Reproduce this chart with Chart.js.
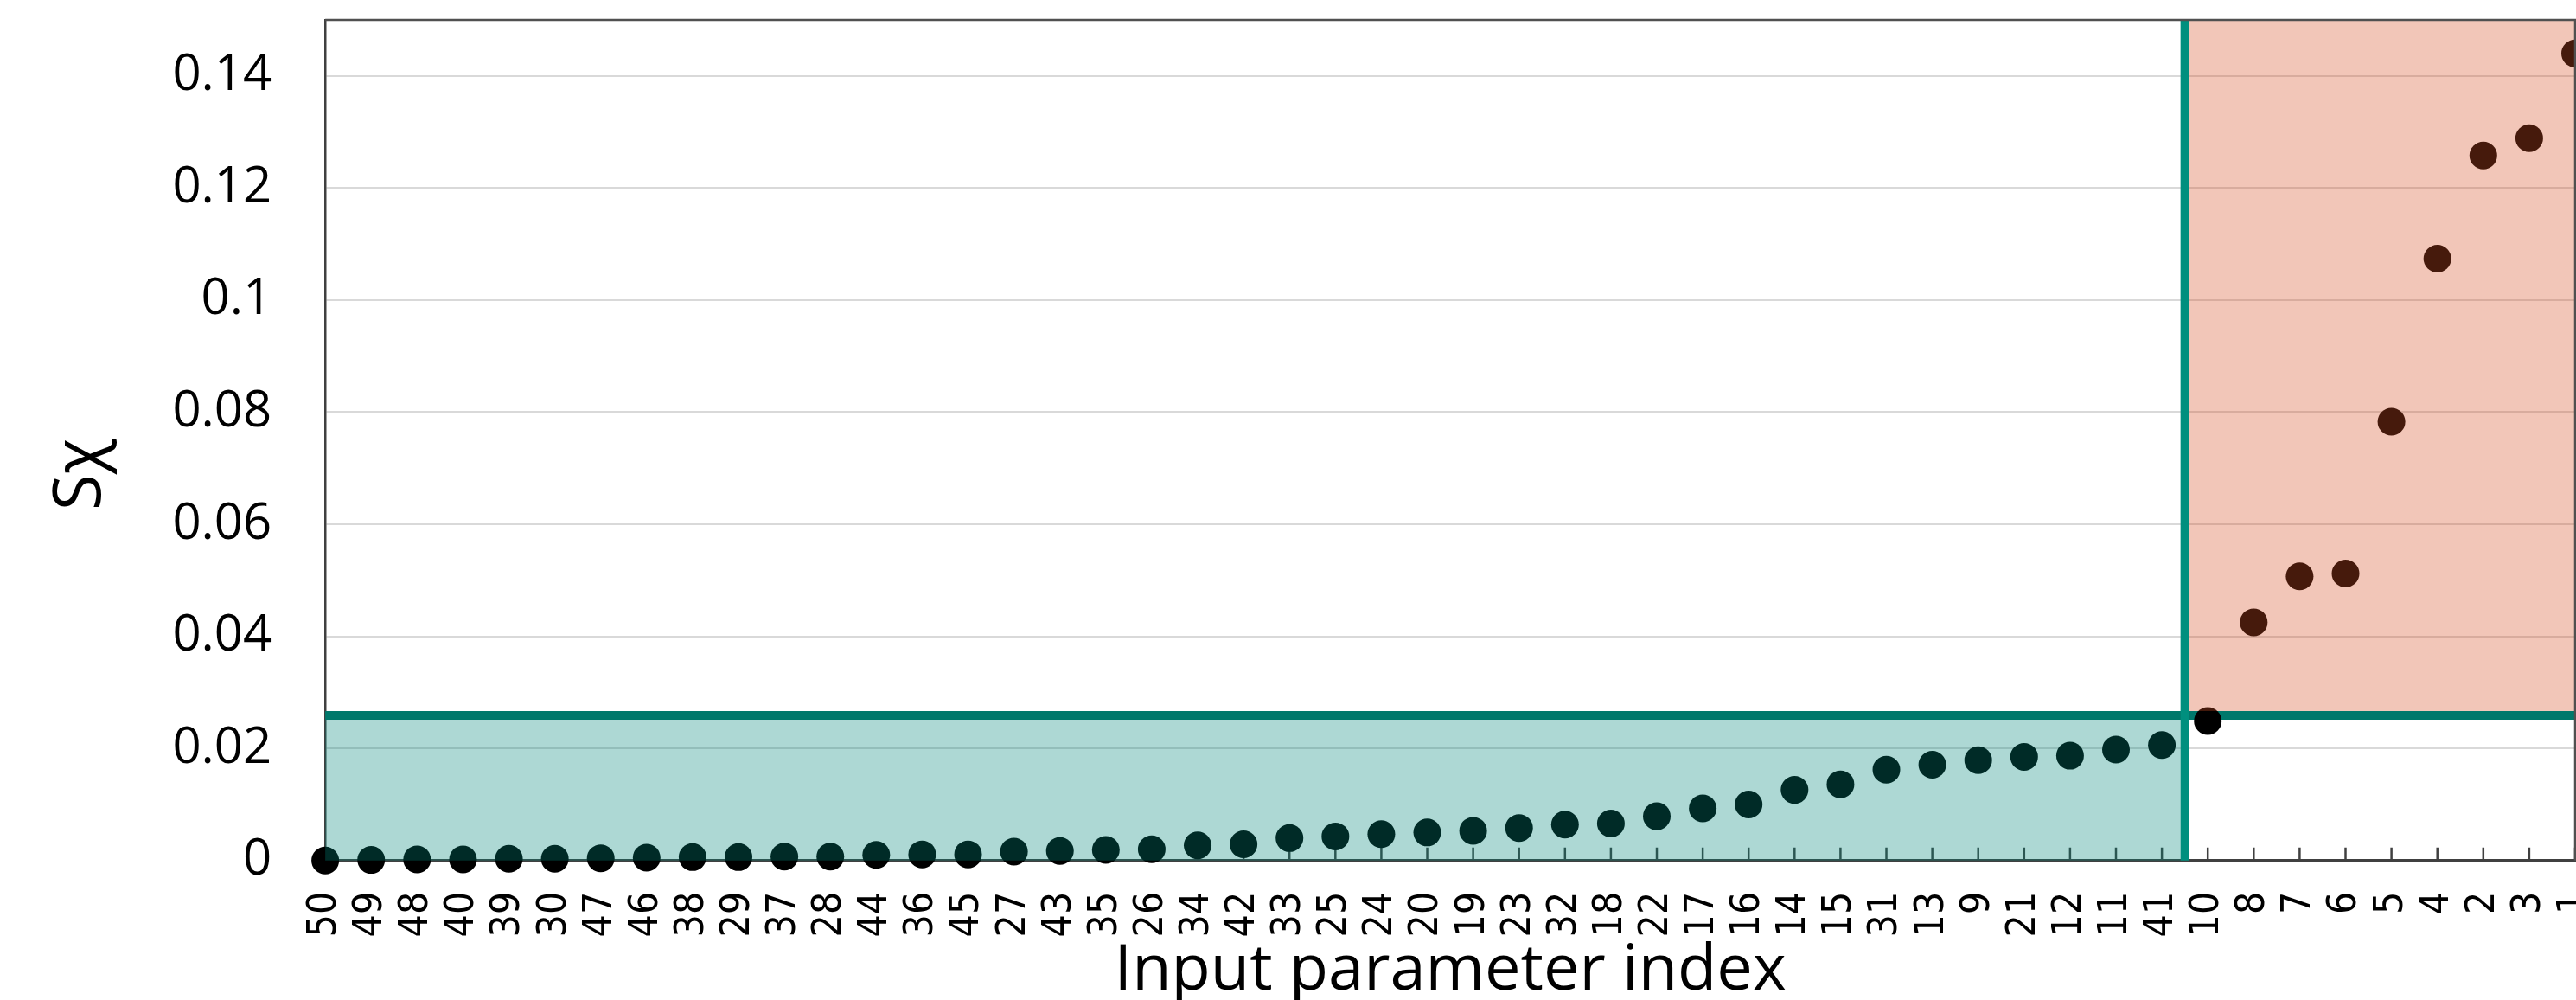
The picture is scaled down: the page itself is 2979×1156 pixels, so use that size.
<!DOCTYPE html>
<html>
<head>
<meta charset="utf-8">
<title>Sensitivity by input parameter</title>
<script src="https://cdn.jsdelivr.net/npm/chart.js@4.4.1/dist/chart.umd.min.js"></script>
<style>
  html, body { margin: 0; padding: 0; background: #ffffff; }
  #chartWrap { width: 2979px; height: 1156px; position: relative; }
</style>
</head>
<body>
<div id="chartWrap"><canvas id="sensitivityChart"></canvas></div>
<script>
// -- DATA --
// parameters sorted by their sensitivity index
const paramLabels = [
  "50", "49", "48", "40", "39", "30", "47", "46", "38", "29",
  "37", "28", "44", "36", "45", "27", "43", "35", "26", "34",
  "42", "33", "25", "24", "20", "19", "23", "32", "18", "22",
  "17", "16", "14", "15", "31", "13", "9", "21", "12", "11",
  "41", "10", "8", "7", "6", "5", "4", "2", "3", "1"
];
const sensitivity = [
  0.0000, 0.0001, 0.0002, 0.0002, 0.0003, 0.0003, 0.0004, 0.0005, 0.0006, 0.0006,
  0.0007, 0.0007, 0.0010, 0.0011, 0.0011, 0.0016, 0.0017, 0.0019, 0.0020, 0.0027,
  0.0029, 0.0040, 0.0043, 0.0047, 0.0050, 0.0053, 0.0058, 0.0064, 0.0066, 0.0079,
  0.0093, 0.0100, 0.0126, 0.0136, 0.0162, 0.0171, 0.0179, 0.0185, 0.0187, 0.0198,
  0.0206, 0.0249, 0.0425, 0.0507, 0.0512, 0.0783, 0.1074, 0.1258, 0.1289, 0.1440
];
const yTickValues = [0, 0.02, 0.04, 0.06, 0.08, 0.1, 0.12, 0.14];
const yMax = 0.15;
// threshold: horizontal cut in S, vertical cut between "41" and "10"
const threshold = 0.0259;
const cutoffIndex = 40.5;

// -- REGIONS, CUT LINES, INNER TICKS --
const regionsPlugin = {
  id: "regions",
  beforeDatasetsDraw(chart) {
    const { ctx, chartArea: area, scales } = chart;
    const x = scales.x;
    const y = scales.y;
    ctx.save();

    // small tick marks pointing up from the x axis
    ctx.strokeStyle = "#404040";
    ctx.lineWidth = 2.5;
    paramLabels.forEach((label, i) => {
      const px = x.getPixelForTick(i);
      ctx.beginPath();
      ctx.moveTo(px, area.bottom);
      ctx.lineTo(px, area.bottom - 15);
      ctx.stroke();
    });

    const xCut = x.getPixelForValue(cutoffIndex);
    const yCut = y.getPixelForValue(threshold);
    ctx.lineWidth = 10;
    ctx.strokeStyle = "#00786b";
    ctx.beginPath();
    ctx.moveTo(area.left, yCut);
    ctx.lineTo(area.right, yCut);
    ctx.stroke();
    ctx.strokeStyle = "#008f7e";
    ctx.beginPath();
    ctx.moveTo(xCut, y.getPixelForValue(0));
    ctx.lineTo(xCut, area.top);
    ctx.stroke();
    ctx.restore();
  },
  afterDatasetsDraw(chart) {
    const { ctx, chartArea: area, scales } = chart;
    const x = scales.x;
    const y = scales.y;
    const xCut = x.getPixelForValue(cutoffIndex);
    const yCut = y.getPixelForValue(threshold);
    const y0 = y.getPixelForValue(0);
    ctx.save();

    // translucent boxes drawn over the markers
    ctx.fillStyle = "rgba(0, 134, 122, 0.32)";
    ctx.fillRect(area.left, yCut + 5, xCut - 5 - area.left, y0 - yCut - 5);
    ctx.fillStyle = "rgba(215, 80, 37, 0.325)";
    ctx.fillRect(xCut + 5, area.top, area.right - xCut - 5, yCut - 5 - area.top);

    // top and right frame
    ctx.strokeStyle = "#505050";
    ctx.lineWidth = 2.5;
    ctx.beginPath();
    ctx.moveTo(area.left, area.top);
    ctx.lineTo(area.right, area.top);
    ctx.lineTo(area.right, area.bottom);
    ctx.stroke();
    ctx.restore();
  }
};

document.addEventListener("DOMContentLoaded", function () {
  const ctx = document.getElementById("sensitivityChart");

  new Chart(ctx, {
    type: "line",
    data: {
      labels: paramLabels,
      datasets: [
        {
          label: "S",
          data: sensitivity,
          showLine: false,
          pointRadius: 16,
          pointHoverRadius: 16,
          pointBackgroundColor: "#000000",
          pointBorderWidth: 0,
          clip: false,
        },
      ],
    },
    options: {
      responsive: true,
      maintainAspectRatio: false,
      devicePixelRatio: 1,
      animation: false,
      events: [],
      layout: {
        autoPadding: false,
        padding: { top: 23, right: 1, bottom: 0, left: 0 },
      },
      plugins: {
        legend: { display: false },
        tooltip: { enabled: false },
      },
      scales: {
        x: {
          type: "category",
          offset: false,
          grid: { display: false, drawTicks: false },
          border: { display: true, color: "#404040", width: 3 },
          ticks: {
            autoSkip: false,
            minRotation: 90,
            maxRotation: 90,
            padding: 36,
            color: "#000000",
            font: { family: "'DejaVu Sans Condensed', 'DejaVu Sans'", size: 46 },
          },
          title: {
            display: true,
            text: "Input parameter index",
            color: "#000000",
            font: { family: "Open Sans", size: 74, lineHeight: 0.9 },
            padding: { top: -30, bottom: 0 },
          },
          afterFit: (scale) => {
            scale.paddingLeft = 0;
            scale.paddingRight = 0;
          },
        },
        y: {
          min: 0,
          max: yMax,
          grid: { color: "#d9d9d9", lineWidth: 2, drawTicks: false },
          border: { display: true, color: "#404040", width: 2.5 },
          afterBuildTicks: (axis) => {
            axis.ticks = yTickValues.map((v) => ({ value: v }));
          },
          ticks: {
            padding: 62,
            color: "#000000",
            font: { family: "Open Sans", size: 58 },
            callback: (v) => String(Math.round(v * 100) / 100),
          },
          title: {
            display: true,
            text: "S\u03c7    ",
            color: "#000000",
            font: { family: "Open Sans", size: 76, lineHeight: 0.9 },
            padding: { top: 60, bottom: 9 },
          },
          afterFit: (scale) => {
            scale.paddingTop = 0;
            scale.paddingBottom = 0;
          },
        },
      },
    },
    plugins: [regionsPlugin],
  });
});
</script>
</body>
</html>
